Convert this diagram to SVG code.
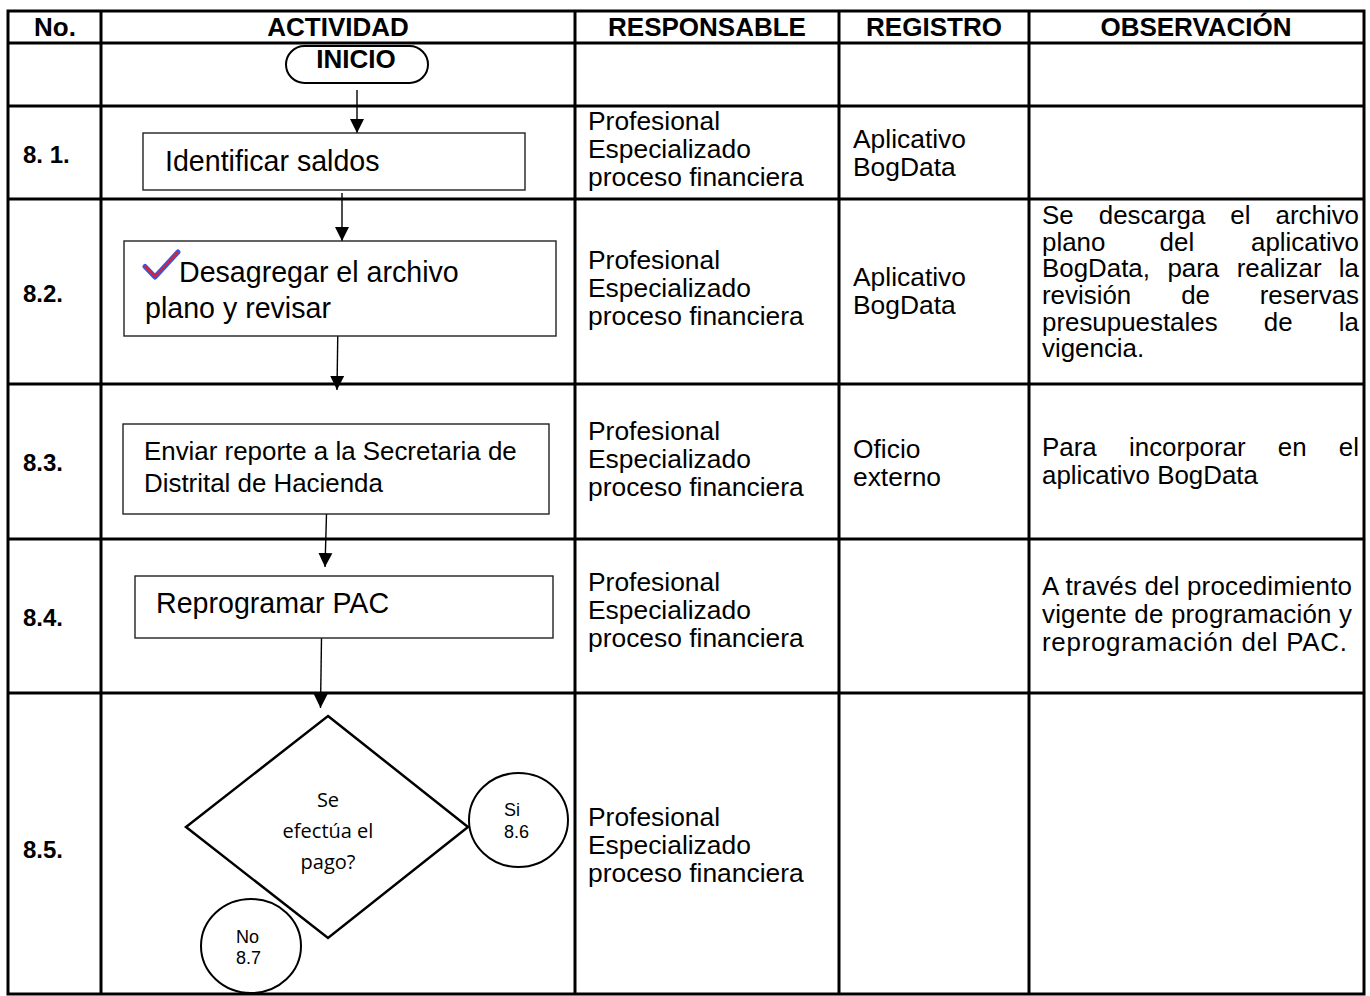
<svg xmlns="http://www.w3.org/2000/svg" width="1370" height="996" viewBox="0 0 1370 996">
<style>
.grid{fill:none;stroke:#000;stroke-width:3}
.box{fill:#fff;stroke:#222;stroke-width:1.4}
.hdr{font-family:"Liberation Sans",Arial,sans-serif;font-weight:bold;font-size:26px;text-anchor:middle;fill:#000}
.num{font-family:"Liberation Sans",Arial,sans-serif;font-weight:bold;font-size:24px;fill:#000}
.act{font-family:"Liberation Sans",Arial,sans-serif;font-size:28.6px;fill:#000}
.act2{font-family:"Liberation Sans",Arial,sans-serif;font-size:25.9px;fill:#000}
.txt{font-family:"Liberation Sans",Arial,sans-serif;font-size:26.4px;fill:#000}
.obs{font-family:"Liberation Sans",Arial,sans-serif;font-size:25.9px;fill:#000}
.end{text-anchor:end}
.dia{font-family:"Open Sans","Noto Sans",sans-serif;font-size:20px;text-anchor:middle;fill:#000}
.cir{font-family:"Liberation Sans",Arial,sans-serif;font-size:18px;fill:#000}
.con{fill:none;stroke:#000;stroke-width:1.4}
</style>
<defs>
<marker id="ah" viewBox="0 0 10 10" refX="10" refY="5" markerWidth="14" markerHeight="16" markerUnits="userSpaceOnUse" orient="auto">
<path d="M0,0 L10,5 L0,10 z" fill="#000"/>
</marker>
</defs>
<rect x="0" y="0" width="1370" height="996" fill="#fff"/>

<g id="table">
<rect class="grid" x="8" y="11" width="1356" height="983"/>
<line class="grid" x1="101" y1="11" x2="101" y2="994"/>
<line class="grid" x1="575" y1="11" x2="575" y2="994"/>
<line class="grid" x1="839" y1="11" x2="839" y2="994"/>
<line class="grid" x1="1029" y1="11" x2="1029" y2="994"/>
<line class="grid" x1="8" y1="43" x2="1364" y2="43"/>
<line class="grid" x1="8" y1="106" x2="1364" y2="106"/>
<line class="grid" x1="8" y1="199" x2="1364" y2="199"/>
<line class="grid" x1="8" y1="384" x2="1364" y2="384"/>
<line class="grid" x1="8" y1="539" x2="1364" y2="539"/>
<line class="grid" x1="8" y1="693" x2="1364" y2="693"/>
</g>

<g id="headers">
<text class="hdr" x="55" y="36">No.</text>
<text class="hdr" x="338" y="36">ACTIVIDAD</text>
<text class="hdr" x="707" y="36">RESPONSABLE</text>
<text class="hdr" x="934" y="36">REGISTRO</text>
<text class="hdr" x="1196" y="36">OBSERVACIÓN</text>
</g>

<g id="row-numbers">
<text class="num" x="23" y="163">8. 1.</text>
<text class="num" x="23" y="302">8.2.</text>
<text class="num" x="23" y="471">8.3.</text>
<text class="num" x="23" y="626">8.4.</text>
<text class="num" x="23" y="858">8.5.</text>
</g>

<g id="connectors">
<line class="con" x1="357" y1="90" x2="357" y2="133" marker-end="url(#ah)"/>
<line class="con" x1="342" y1="193" x2="342" y2="241" marker-end="url(#ah)"/>
<line class="con" x1="338" y1="318" x2="337" y2="390" marker-end="url(#ah)"/>
<line class="con" x1="326.5" y1="514" x2="325" y2="567" marker-end="url(#ah)"/>
<line class="con" x1="321.5" y1="638" x2="320.5" y2="708" marker-end="url(#ah)"/>
</g>

<g id="n-inicio">
<rect x="286" y="46" width="142" height="37" rx="18.5" ry="18.5" fill="#fff" stroke="#000" stroke-width="2"/>
<text class="hdr" x="356" y="68">INICIO</text>
</g>

<g id="n-8-1">
<rect class="box" x="143" y="133" width="382" height="57"/>
<text class="act" x="165" y="171">Identificar saldos</text>
</g>

<g id="n-8-2">
<rect class="box" x="124" y="241" width="432" height="95"/>
<path d="M145,266.5 L155,277 L178,252" fill="none" stroke="#3a55e0" stroke-width="5" stroke-linecap="round" stroke-linejoin="round"/>
<path d="M145.5,266.5 L155,276.5 L177.5,252.5" fill="none" stroke="#e0202a" stroke-width="2" stroke-linecap="round" stroke-linejoin="round"/>
<text class="act" x="179" y="282">Desagregar el archivo</text>
<text class="act" x="145" y="318">plano y revisar</text>
</g>

<g id="n-8-3">
<rect class="box" x="123" y="424" width="426" height="90"/>
<text class="act2" x="144" y="460">Enviar reporte a la Secretaria de</text>
<text class="act2" x="144" y="492">Distrital de Hacienda</text>
</g>

<g id="n-8-4">
<rect class="box" x="135" y="576" width="418" height="62"/>
<text class="act" x="156" y="613">Reprogramar PAC</text>
</g>

<g id="n-8-5">
<polygon points="328,716 468,827 328,938 186,827" fill="#fff" stroke="#000" stroke-width="2.5" stroke-linejoin="miter"/>
<text class="dia" x="328" y="807">Se</text>
<text class="dia" x="328" y="838">efectúa el</text>
<text class="dia" x="328" y="869">pago?</text>
</g>

<g id="n-si">
<ellipse cx="518.5" cy="820" rx="49.5" ry="47" fill="#fff" stroke="#000" stroke-width="2"/>
<text class="cir" x="504" y="816">Si</text>
<text class="cir" x="504" y="838">8.6</text>
</g>

<g id="n-no">
<ellipse cx="251" cy="946" rx="50" ry="47" fill="#fff" stroke="#000" stroke-width="2"/>
<text class="cir" x="236" y="943">No</text>
<text class="cir" x="236" y="964">8.7</text>
</g>

<g id="responsable" transform="translate(588 0)">
<text class="txt" x="0" y="130">Profesional</text>
<text class="txt" x="0" y="158">Especializado</text>
<text class="txt" x="0" y="186">proceso financiera</text>
<text class="txt" x="0" y="269">Profesional</text>
<text class="txt" x="0" y="297">Especializado</text>
<text class="txt" x="0" y="325">proceso financiera</text>
<text class="txt" x="0" y="440">Profesional</text>
<text class="txt" x="0" y="468">Especializado</text>
<text class="txt" x="0" y="496">proceso financiera</text>
<text class="txt" x="0" y="591">Profesional</text>
<text class="txt" x="0" y="619">Especializado</text>
<text class="txt" x="0" y="647">proceso financiera</text>
<text class="txt" x="0" y="826">Profesional</text>
<text class="txt" x="0" y="854">Especializado</text>
<text class="txt" x="0" y="882">proceso financiera</text>
</g>

<g id="registro" transform="translate(853 0)">
<text class="txt" x="0" y="148">Aplicativo</text>
<text class="txt" x="0" y="176">BogData</text>
<text class="txt" x="0" y="286">Aplicativo</text>
<text class="txt" x="0" y="314">BogData</text>
<text class="txt" x="0" y="458">Oficio</text>
<text class="txt" x="0" y="486">externo</text>
</g>

<g id="observacion" transform="translate(1042 0)">
<text class="obs" x="0" y="224">Se</text>
<text class="obs" x="56.8" y="224">descarga</text>
<text class="obs" x="188.3" y="224">el</text>
<text class="obs end" x="317" y="224">archivo</text>
<text class="obs" x="0" y="251">plano</text>
<text class="obs" x="117.6" y="251">del</text>
<text class="obs end" x="317" y="251">aplicativo</text>
<text class="obs" x="0" y="277">BogData,</text>
<text class="obs" x="125.4" y="277">para</text>
<text class="obs" x="194.7" y="277">realizar</text>
<text class="obs end" x="317" y="277">la</text>
<text class="obs" x="0" y="304">revisión</text>
<text class="obs" x="139.2" y="304">de</text>
<text class="obs end" x="317" y="304">reservas</text>
<text class="obs" x="0" y="331">presupuestales</text>
<text class="obs" x="221.8" y="331">de</text>
<text class="obs end" x="317" y="331">la</text>
<text class="obs" x="0" y="357">vigencia.</text>
<text class="obs" x="0" y="456">Para</text>
<text class="obs" x="87" y="456">incorporar</text>
<text class="obs" x="235.8" y="456">en</text>
<text class="obs end" x="317" y="456">el</text>
<text class="obs" x="0" y="484">aplicativo BogData</text>
<text class="obs" x="0" y="595" textLength="310" lengthAdjust="spacing">A través del procedimiento</text>
<text class="obs" x="0" y="623" textLength="310" lengthAdjust="spacing">vigente de programación y</text>
<text class="obs" x="0" y="651" textLength="305" lengthAdjust="spacing">reprogramación del PAC.</text>
</g>
</svg>
